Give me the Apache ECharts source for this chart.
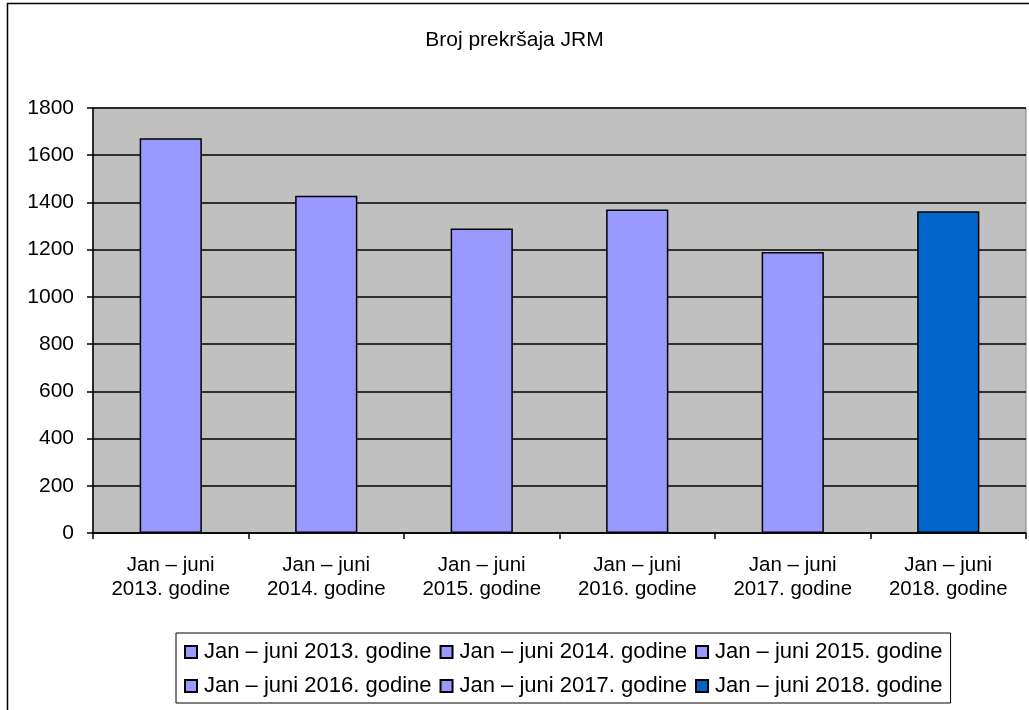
<!DOCTYPE html>
<html>
<head>
<meta charset="utf-8">
<script src="https://cdn.jsdelivr.net/npm/echarts@6/dist/echarts.min.js"></script>
<style>
  html, body { margin: 0; padding: 0; background: #fff; }
  #main { width: 1029px; height: 710px; }
</style>
</head>
<body>
<div id="main"></div>
<script>
  // podaci
  const categories = [
    'Jan – juni\n2013. godine',
    'Jan – juni\n2014. godine',
    'Jan – juni\n2015. godine',
    'Jan – juni\n2016. godine',
    'Jan – juni\n2017. godine',
    'Jan – juni\n2018. godine'
  ]
  const seriesNames = [
    'Jan – juni 2013. godine',
    'Jan – juni 2014. godine',
    'Jan – juni 2015. godine',
    'Jan – juni 2016. godine',
    'Jan – juni 2017. godine',
    'Jan – juni 2018. godine'
  ]
  const values = [1672, 1428, 1290, 1370, 1190, 1363]
  const colors = ['#9999FF', '#9999FF', '#9999FF', '#9999FF', '#9999FF', '#0066CC']

  const font = '"Liberation Sans", Arial, sans-serif'

  // svaka serija ima vrijednost samo u svojoj kategoriji
  const seriesData = seriesNames.map((name, i) => ({
    name: name,
    type: 'bar',
    stack: 'sve',
    barWidth: '40%',
    itemStyle: {
      color: colors[i],
      borderColor: '#000',
      borderWidth: 1.5
    },
    data: values.map((v, j) => (j === i ? v : '-'))
  }))

  const myChart = echarts.init(document.getElementById('main'))
  const option = {
    animation: false,
    backgroundColor: '#fff',
    textStyle: { fontFamily: font },
    title: {
      text: 'Broj prekršaja JRM',
      left: 'center',
      top: 25,
      textStyle: { fontSize: 21, fontWeight: 'normal', color: '#000', fontFamily: font }
    },
    graphic: [{
      type: 'rect',
      shape: { x: 7.5, y: 3.5, width: 1100, height: 1000 },
      style: { fill: 'none', stroke: '#000', lineWidth: 1.5 },
      silent: true,
      z: 100
    }],
    legend: {
      data: seriesNames,
      top: 633,
      left: 176,
      width: 760,
      itemWidth: 12,
      itemHeight: 12,
      itemGap: 8,
      icon: 'rect',
      padding: [6, 8, 4, 8],
      backgroundColor: '#fff',
      borderColor: '#000',
      borderWidth: 1,
      textStyle: { fontSize: 22, color: '#000', fontFamily: font, lineHeight: 26, padding: [0, 0, 0, 2] }
    },
    grid: {
      left: 93,
      right: 3,
      top: 108,
      bottom: 177,
      show: true,
      backgroundColor: '#C0C0C0',
      borderColor: '#808080',
      borderWidth: 1
    },
    xAxis: {
      type: 'category',
      data: categories,
      boundaryGap: true,
      axisLine: { show: true, lineStyle: { color: '#000', width: 1.5 } },
      axisTick: { show: true, interval: 0, length: 6, lineStyle: { color: '#000', width: 1.5 } },
      axisLabel: {
        interval: 0,
        fontSize: 20.5,
        color: '#000',
        lineHeight: 24,
        margin: 20,
        fontFamily: font
      }
    },
    yAxis: {
      type: 'value',
      min: 0,
      max: 1800,
      interval: 200,
      axisLine: { show: true, lineStyle: { color: '#000', width: 1.5 } },
      axisTick: { show: true, length: 6, lineStyle: { color: '#000', width: 1.5 } },
      axisLabel: {
        fontSize: 21,
        color: '#000',
        margin: 19,
        fontFamily: font,
        formatter: v => String(v)
      },
      splitLine: { show: true, lineStyle: { color: '#000', width: 1.5 } }
    },
    series: seriesData
  }
  myChart.setOption(option)
</script>
</body>
</html>
